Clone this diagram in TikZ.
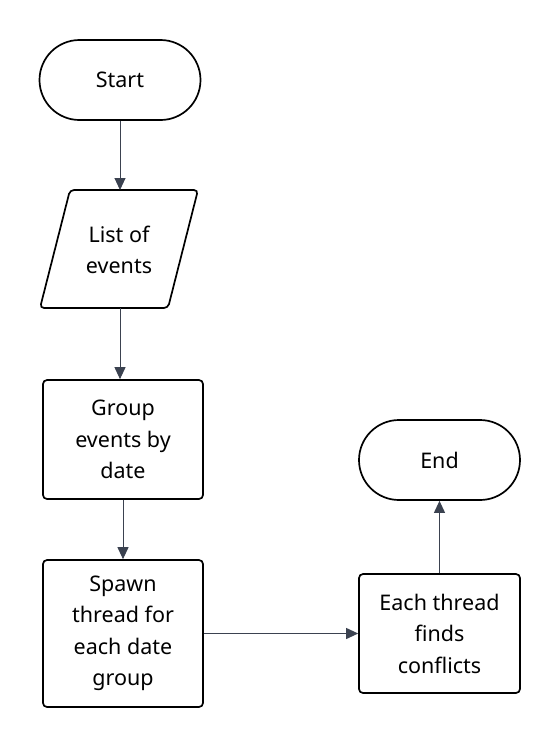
\documentclass[tikz,border=0pt]{standalone}
\usepackage{fontspec}
\setmainfont{Noto Sans}
\usetikzlibrary{arrows.meta,shapes.geometric,shapes.misc}
\definecolor{arr}{HTML}{3B4250}
\begin{document}
\begin{tikzpicture}[x=1pt,y=-1pt,
  txt/.style={font=\fontsize{21.5}{31.5}\selectfont,align=center,text=black},
  term/.style={txt,draw=black,line width=1.7pt,rounded rectangle,minimum width=161pt,minimum height=80pt,inner sep=0pt},
  proc/.style={txt,draw=black,line width=1.7pt,rounded corners=4pt,minimum width=160pt,inner sep=0pt},
  conn/.style={draw=arr,line width=1pt,-{Triangle[length=12pt,width=11pt]}}]
\useasboundingbox (0,0) rectangle (560,748);
\node[term] (start) at (120,80) {Start};
\coordinate (ptl) at (70,190);
\coordinate (ptr) at (198,190);
\coordinate (pbr) at (168,308);
\coordinate (pbl) at (40,308);
\draw[line width=1.7pt,rounded corners=4pt] (ptl) -- (ptr) -- (pbr) -- (pbl) -- cycle;
\node[txt] (list) at (119,250) {List of\\events};
\node[proc,minimum height=119pt] (group) at (123,439.5) {Group\\events by\\date};
\node[proc,minimum height=147pt] (spawn) at (123,633.5) {Spawn\\thread for\\each date\\group};
\node[proc,minimum height=119pt,minimum width=161pt] (each) at (439.5,633.5) {Each thread\\finds\\conflicts};
\node[term] (end) at (439.5,460) {End};
\coordinate (listtop) at (120,190);
\coordinate (listbot) at (120,308);
\draw[conn] (start.south) -- (listtop);
\draw[conn] (listbot) -- (listbot |- group.north);
\draw[conn] (group.south) -- (spawn.north);
\draw[conn] (spawn.east |- each.west) -- (each.west);
\draw[conn] (each.north) -- (end.south);
\end{tikzpicture}
\end{document}
